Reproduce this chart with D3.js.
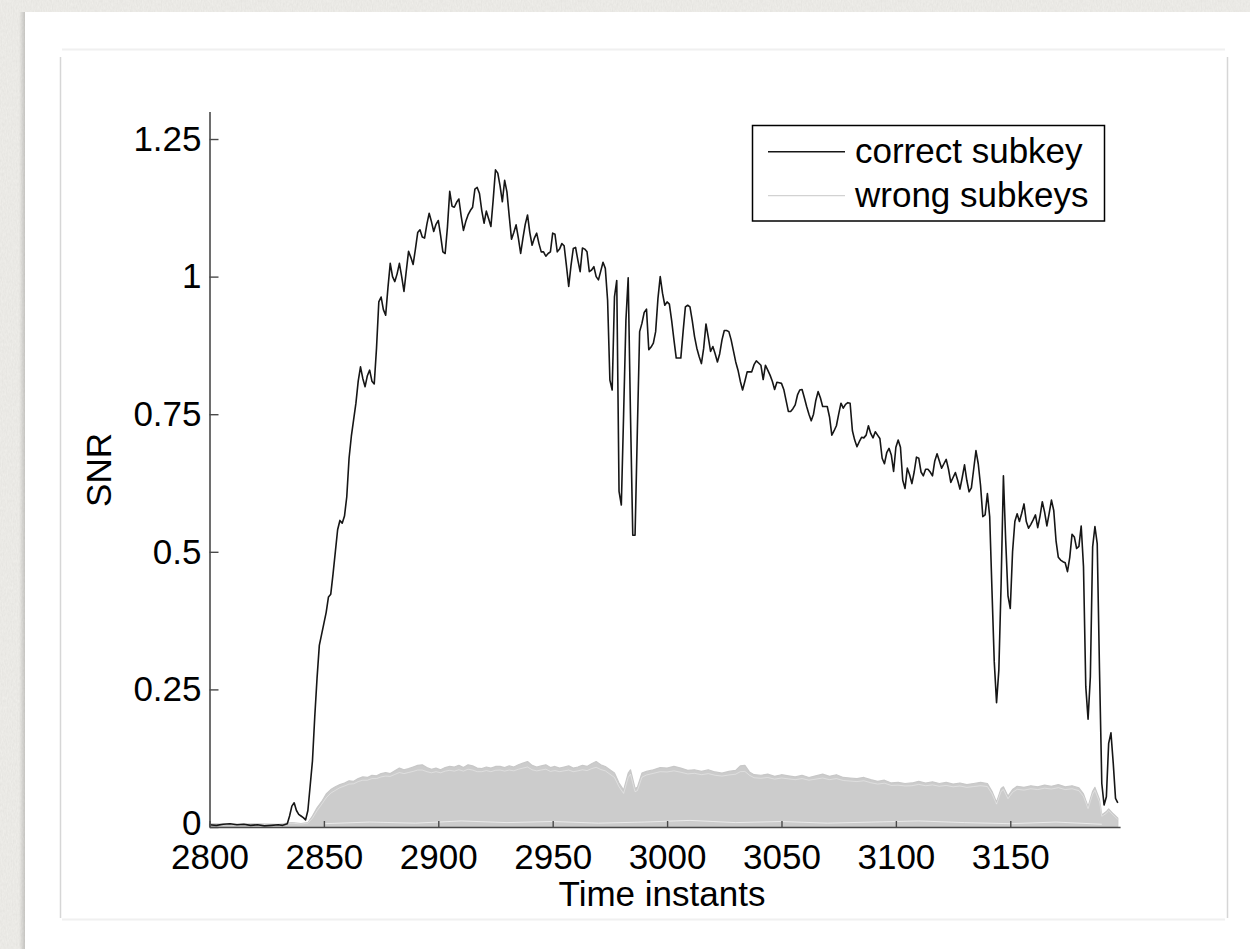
<!DOCTYPE html>
<html>
<head>
<meta charset="utf-8">
<script src="https://cdn.jsdelivr.net/npm/d3@7"></script>
<style>
body { margin: 0; background: #ecebe7; }
svg { display: block; font-family: "Liberation Sans", Arial, Helvetica, sans-serif; }
</style>
</head>
<body>
<div id="chart"></div>
<script>
// SNR of the correct subkey, [time instant, SNR]
var correctSubkey = [
[2800,.004],[2803,.003],[2806,.005],[2809,.006],[2812,.004],[2815,.005],[2818,.003],[2821,.004],[2824,.002],[2827,.003],[2830,.004],[2832,.003],
[2834,.006],[2835,.02],[2836,.038],[2837,.044],[2838,.03],[2839,.023],[2840,.02],[2841,.017],[2842,.013],[2843,.03],[2844,.075],[2845,.12],
[2846,.2],[2847,.27],[2848,.33],[2849,.35],[2850,.37],[2851,.39],[2852,.418],[2853,.423],[2854,.46],[2855,.5],[2856,.54],[2857,.557],
[2858,.552],[2859,.565],[2860,.6],[2861,.67],[2862,.71],[2863,.74],[2864,.77],[2865,.81],[2866,.836],[2867,.815],[2868,.8],[2869,.82],
[2870,.83],[2871,.81],[2872,.805],[2873,.87],[2874,.954],[2875,.963],[2876,.94],[2877,.93],[2878,.98],[2879,1.024],[2880,1.0],[2881,.991],
[2882,1.005],[2883,1.024],[2884,1.0],[2885,.973],[2886,1.01],[2887,1.046],[2888,1.035],[2889,1.022],[2890,1.05],[2891,1.08],[2892,1.085],
[2893,1.072],[2894,1.07],[2895,1.095],[2896,1.115],[2897,1.1],[2898,1.082],[2899,1.095],[2900,1.102],[2901,1.075],[2902,1.045],[2903,1.042],
[2904,1.09],[2905,1.155],[2906,1.128],[2907,1.126],[2908,1.135],[2909,1.141],[2910,1.11],[2911,1.084],[2912,1.1],[2913,1.112],[2914,1.12],
[2915,1.126],[2916,1.159],[2917,1.162],[2918,1.151],[2919,1.12],[2920,1.097],[2921,1.119],[2922,1.105],[2923,1.091],[2924,1.14],[2925,1.194],
[2926,1.188],[2927,1.165],[2928,1.136],[2929,1.175],[2930,1.154],[2931,1.11],[2932,1.068],[2933,1.08],[2934,1.094],[2935,1.07],[2936,1.042],
[2937,1.07],[2938,1.095],[2939,1.112],[2940,1.08],[2941,1.057],[2942,1.07],[2943,1.079],[2944,1.06],[2945,1.045],[2946,1.045],[2947,1.037],
[2948,1.042],[2949,1.045],[2950,1.079],[2951,1.077],[2952,1.045],[2953,1.05],[2954,1.06],[2955,1.056],[2956,1.02],[2957,.982],[2958,1.02],
[2959,1.051],[2960,1.053],[2961,1.03],[2962,1.009],[2963,1.052],[2964,1.05],[2965,1.045],[2966,1.009],[2967,1.012],[2968,1.018],[2969,1.0],
[2970,.994],[2971,1.01],[2972,1.026],[2973,1.015],[2974,.957],[2975,.812],[2976,.794],[2977,.963],[2978,.993],[2979,.61],[2980,.585],
[2981,.75],[2982,.92],[2983,.998],[2984,.75],[2985,.53],[2986,.53],[2987,.72],[2988,.9],[2989,.915],[2990,.935],[2991,.941],[2992,.867],
[2993,.872],[2994,.879],[2995,.9],[2996,.96],[2997,1.0],[2998,.97],[2999,.948],[3000,.954],[3001,.95],[3002,.92],[3003,.885],[3004,.852],
[3005,.852],[3006,.852],[3007,.9],[3008,.945],[3009,.948],[3010,.945],[3011,.92],[3012,.891],[3013,.87],[3014,.855],[3015,.842],[3016,.87],
[3017,.914],[3018,.89],[3019,.864],[3020,.873],[3021,.86],[3022,.845],[3023,.86],[3024,.885],[3025,.902],[3026,.902],[3027,.9],[3028,.885],
[3029,.865],[3030,.845],[3031,.83],[3032,.81],[3033,.794],[3034,.81],[3035,.827],[3036,.827],[3037,.827],[3038,.84],[3039,.847],[3040,.843],
[3041,.839],[3042,.813],[3043,.839],[3044,.83],[3045,.821],[3046,.81],[3047,.795],[3048,.808],[3049,.807],[3050,.806],[3051,.795],[3052,.775],
[3053,.755],[3054,.755],[3055,.76],[3056,.767],[3057,.785],[3058,.794],[3059,.795],[3060,.78],[3061,.764],[3062,.75],[3063,.738],[3064,.75],
[3065,.775],[3066,.791],[3067,.78],[3068,.764],[3069,.764],[3070,.764],[3071,.745],[3072,.712],[3073,.72],[3074,.729],[3075,.75],[3076,.77],
[3077,.761],[3078,.768],[3079,.771],[3080,.77],[3081,.72],[3082,.703],[3083,.691],[3084,.7],[3085,.708],[3086,.707],[3087,.712],[3088,.729],
[3089,.715],[3090,.707],[3091,.718],[3092,.712],[3093,.706],[3094,.67],[3095,.66],[3096,.68],[3097,.688],[3098,.676],[3099,.646],[3100,.69],
[3101,.703],[3102,.69],[3103,.63],[3104,.615],[3105,.652],[3106,.64],[3107,.624],[3108,.645],[3109,.672],[3110,.67],[3111,.645],[3112,.638],
[3113,.65],[3114,.65],[3115,.645],[3116,.638],[3117,.665],[3118,.678],[3119,.665],[3120,.652],[3121,.66],[3122,.668],[3123,.65],[3124,.626],
[3125,.635],[3126,.644],[3127,.63],[3128,.614],[3129,.635],[3130,.658],[3131,.63],[3132,.609],[3133,.616],[3134,.65],[3135,.684],[3136,.66],
[3137,.621],[3138,.564],[3139,.567],[3140,.606],[3141,.564],[3142,.43],[3143,.3],[3144,.226],[3145,.285],[3146,.443],[3147,.638],[3148,.52],
[3149,.42],[3150,.397],[3151,.5],[3152,.555],[3153,.569],[3154,.555],[3155,.57],[3156,.587],[3157,.555],[3158,.543],[3159,.55],[3160,.558],
[3161,.567],[3162,.544],[3163,.565],[3164,.591],[3165,.572],[3166,.547],[3167,.57],[3168,.594],[3169,.575],[3170,.52],[3171,.49],[3172,.485],
[3173,.482],[3174,.48],[3175,.464],[3176,.49],[3177,.532],[3178,.527],[3179,.506],[3180,.51],[3181,.547],[3182,.473],[3183,.255],[3184,.196],
[3185,.273],[3186,.509],[3187,.546],[3188,.515],[3189,.285],[3190,.079],[3191,.04],[3192,.055],[3193,.152],[3194,.171],[3195,.116],[3196,.052],
[3197,.044]
];

// wrong subkeys: time instants, a curve inside the bulk, highest outlying curve
var wrongTimes = [2800,2810,2820,2830,2836,2840,2843,2845,2847,2849,2851,2853,2855,2857,2859,2861,2863,2865,2867,2869,2871,2873,2875,2877,
2879,2881,2883,2885,2887,2889,2891,2893,2895,2897,2899,2901,2903,2905,2907,2909,2911,2913,2915,2917,2919,2921,2923,2925,2927,2929,2931,
2933,2935,2937,2939,2941,2943,2945,2947,2949,2951,2953,2955,2957,2959,2961,2963,2965,2967,2969,2971,2973,2975,2977,2979,2981,2983,2984,
2986,2987,2989,2991,2994,2997,3000,3003,3006,3009,3012,3015,3018,3021,3024,3027,3030,3032,3034,3036,3038,3041,3044,3047,3050,3053,3056,
3059,3062,3065,3068,3071,3074,3077,3080,3083,3086,3089,3092,3095,3098,3101,3104,3107,3110,3113,3116,3119,3122,3125,3128,3131,3134,3137,
3140,3142,3144,3146,3147,3149,3151,3153,3156,3159,3162,3165,3168,3171,3174,3177,3180,3182,3184,3186,3187,3189,3190,3192,3193,3195,3197];

var wrongTop = [.004,.004,.005,.004,.006,.005,.006,.012,.024,.036,.046,.055,.06,.066,.069,.072,.074,.077,.079,.08,.082,.083,.085,.086,
.087,.089,.091,.09,.092,.093,.095,.094,.093,.092,.094,.093,.095,.096,.094,.096,.095,.097,.096,.094,.095,.096,.094,.096,.097,.095,.096,
.095,.097,.098,.099,.096,.095,.096,.097,.094,.095,.094,.095,.096,.094,.095,.096,.095,.097,.098,.096,.094,.088,.082,.066,.055,.082,.088,
.058,.06,.083,.088,.091,.093,.093,.094,.092,.09,.091,.089,.09,.088,.087,.088,.089,.09,.09,.088,.084,.083,.084,.082,.083,.082,.081,
.082,.08,.081,.082,.08,.081,.079,.078,.077,.078,.075,.073,.074,.071,.071,.07,.07,.072,.07,.071,.069,.07,.068,.069,.067,.068,.069,
.068,.056,.038,.06,.063,.047,.058,.063,.062,.064,.063,.065,.064,.066,.063,.064,.061,.051,.03,.055,.061,.042,.017,.022,.027,.019,.012];

var wrongMax = [.006,.005,.006,.005,.008,.006,.008,.02,.035,.046,.06,.068,.073,.077,.08,.084,.083,.088,.091,.09,.094,.093,.097,.099,
.097,.102,.107,.104,.106,.109,.112,.113,.108,.105,.107,.104,.108,.11,.109,.112,.108,.113,.111,.107,.106,.109,.107,.11,.11,.108,.111,
.109,.113,.116,.119,.112,.109,.111,.113,.108,.11,.107,.109,.111,.107,.109,.112,.11,.115,.119,.113,.11,.104,.098,.08,.067,.098,.104,
.07,.072,.098,.101,.104,.108,.107,.11,.107,.103,.104,.101,.104,.1,.098,.101,.103,.111,.112,.1,.095,.094,.096,.092,.095,.093,.091,
.094,.09,.093,.096,.092,.095,.09,.089,.088,.09,.086,.083,.085,.08,.081,.079,.08,.083,.08,.082,.079,.081,.078,.08,.077,.079,.081,
.079,.065,.045,.07,.073,.056,.068,.074,.072,.075,.073,.076,.074,.077,.073,.075,.071,.06,.037,.065,.072,.05,.022,.028,.033,.024,.016];

// lowest wrong-subkey curve, leaves thin white gaps above the axis
var gapTimes = [2850,2870,2890,2910,2930,2950,2970,2990,3010,3030,3050,3070,3090,3110,3130,3150,3170,3190];
var wrongLow = [.006,.009,.007,.011,.008,.01,.007,.009,.012,.008,.01,.007,.009,.011,.008,.006,.009,.005];

var xTicks = [2800,2850,2900,2950,3000,3050,3100,3150];
var yTicks = [0,0.25,0.5,0.75,1,1.25];
var seriesNames = ["correct subkey", "wrong subkeys"];

var W = 1250, H = 949;

var svg = d3.select("#chart").append("svg")
	.attr("width", W)
	.attr("height", H);

//////////////////////// paper background + card ////////////////////////
var defs = svg.append("defs");
var paper = defs.append("filter").attr("id", "paper")
	.attr("x", 0).attr("y", 0).attr("width", "100%").attr("height", "100%");
paper.append("feTurbulence")
	.attr("type", "fractalNoise")
	.attr("baseFrequency", "0.8 0.3")
	.attr("numOctaves", 2)
	.attr("seed", 4);
paper.append("feColorMatrix")
	.attr("type", "matrix")
	.attr("values", "0 0 0 0 0.45  0 0 0 0 0.44  0 0 0 0 0.42  0 0 0 0.22 0");

var shadow = defs.append("linearGradient").attr("id", "cardShadow")
	.attr("x1", "0%").attr("x2", "100%");
shadow.append("stop").attr("offset", "0%").attr("stop-color", "#000").attr("stop-opacity", 0);
shadow.append("stop").attr("offset", "100%").attr("stop-color", "#000").attr("stop-opacity", 0.16);

svg.append("rect").attr("width", W).attr("height", H).attr("fill", "#f1f0ec");
svg.append("rect").attr("width", W).attr("height", H).attr("filter", "url(#paper)");
svg.append("rect").attr("x", 19).attr("y", 12).attr("width", 6).attr("height", H).attr("fill", "url(#cardShadow)");
svg.append("rect").attr("x", 25).attr("y", 12).attr("width", W).attr("height", H).attr("fill", "#fff");

// thin frame round the figure
var frame = svg.append("g").attr("fill", "none");
frame.append("line").attr("x1", 62).attr("x2", 1225).attr("y1", 49.5).attr("y2", 49.5).attr("stroke", "#f0f0f0").attr("stroke-width", 2);
frame.append("line").attr("x1", 62).attr("x2", 1225).attr("y1", 919.5).attr("y2", 919.5).attr("stroke", "#f0f0f0").attr("stroke-width", 2);
frame.append("line").attr("x1", 60.5).attr("x2", 60.5).attr("y1", 57).attr("y2", 918).attr("stroke", "#d6d6d6").attr("stroke-width", 1.5);
frame.append("line").attr("x1", 1227.5).attr("x2", 1227.5).attr("y1", 57).attr("y2", 918).attr("stroke", "#d6d6d6").attr("stroke-width", 1.5);

//////////////////////////////// scales ////////////////////////////////
var x = d3.scaleLinear().domain([2800, 3198]).range([209.5, 1120.1]);
var y = d3.scaleLinear().domain([0, 1.3]).range([827, 111.5]);

//////////////////////// wrong subkeys (grey bulk) ////////////////////////
var wrong = wrongTimes.map(function(t, i) { return { t: t, top: wrongTop[i], max: wrongMax[i] }; });

// the bulk of grey curves, filled up to the highest one
svg.append("path")
	.datum(wrong)
	.attr("fill", "#cccccc")
	.attr("stroke", "#c8c8c8")
	.attr("stroke-width", 1.2)
	.attr("stroke-linejoin", "round")
	.attr("d", d3.area()
		.x(function(d) { return x(d.t); })
		.y0(y(0.001))
		.y1(function(d) { return y(d.max); }));

// faint seams between the upper curves
svg.append("path")
	.datum(wrong)
	.attr("fill", "none")
	.attr("stroke", "#ffffff")
	.attr("stroke-opacity", 0.45)
	.attr("stroke-width", 0.8)
	.attr("d", d3.line()
		.x(function(d) { return x(d.t); })
		.y(function(d) { return y((d.top + d.max) / 2); }));

// thin white gaps between the lowest curves
svg.append("path")
	.datum(gapTimes.map(function(t, i) { return [t, wrongLow[i]]; }))
	.attr("fill", "none")
	.attr("stroke", "#fff")
	.attr("stroke-opacity", 0.6)
	.attr("stroke-width", 1)
	.attr("d", d3.line()
		.x(function(d) { return x(d[0]); })
		.y(function(d) { return y(d[1]); }));

//////////////////////////// correct subkey ////////////////////////////
svg.append("path")
	.datum(correctSubkey)
	.attr("fill", "none")
	.attr("stroke", "#161616")
	.attr("stroke-width", 1.6)
	.attr("stroke-linejoin", "round")
	.attr("d", d3.line()
		.x(function(d) { return x(d[0]); })
		.y(function(d) { return y(d[1]); }));

///////////////////////////////// axes /////////////////////////////////
var yAxis = svg.append("g")
	.attr("transform", "translate(" + x(2800) + ",0)")
	.call(d3.axisLeft(y).tickValues(yTicks).tickSize(-9).tickSizeOuter(0).tickPadding(8)
		.tickFormat(function(d) { return String(d); }));

var xAxis = svg.append("g")
	.attr("transform", "translate(0," + y(0) + ")")
	.call(d3.axisBottom(x).tickValues(xTicks).tickSize(-6).tickSizeOuter(0).tickPadding(17)
		.tickFormat(function(d) { return String(d); }));

[xAxis, yAxis].forEach(function(a) {
	a.select(".domain").attr("stroke", "#4a4a4a").attr("stroke-width", 1.6);
	a.selectAll(".tick line").attr("stroke", "#4a4a4a").attr("stroke-width", 1.4);
	a.selectAll(".tick text")
		.attr("fill", "#000")
		.style("font-size", "35px")
		.style("font-family", "'Liberation Sans', Arial, Helvetica, sans-serif");
});
// the zero label sits just above the first time label
yAxis.selectAll(".tick text").filter(function(d) { return d === 0; }).attr("dy", "0.2em");

svg.append("text")
	.attr("x", 662)
	.attr("y", 906)
	.attr("text-anchor", "middle")
	.style("font-size", "35px")
	.text("Time instants");

svg.append("text")
	.attr("transform", "translate(111,470) rotate(-90)")
	.attr("text-anchor", "middle")
	.style("font-size", "35px")
	.text("SNR");

//////////////////////////////// legend ////////////////////////////////
var legend = svg.append("g");
legend.append("rect")
	.attr("x", 752.5).attr("y", 125.5)
	.attr("width", 352).attr("height", 95.5)
	.attr("fill", "#fff")
	.attr("stroke", "#000")
	.attr("stroke-width", 1.5);

var legendStyle = [{ color: "#161616", width: 1.6 }, { color: "#d2d2d2", width: 1.2 }];
seriesNames.forEach(function(name, i) {
	var ly = 151.7 + i * 44;
	legend.append("line")
		.attr("x1", 768).attr("x2", 845)
		.attr("y1", ly).attr("y2", ly)
		.attr("stroke", legendStyle[i].color)
		.attr("stroke-width", legendStyle[i].width);
	legend.append("text")
		.attr("x", 855)
		.attr("y", ly + 11.7)
		.style("font-size", "35px")
		.text(name);
});
</script>
</body>
</html>
